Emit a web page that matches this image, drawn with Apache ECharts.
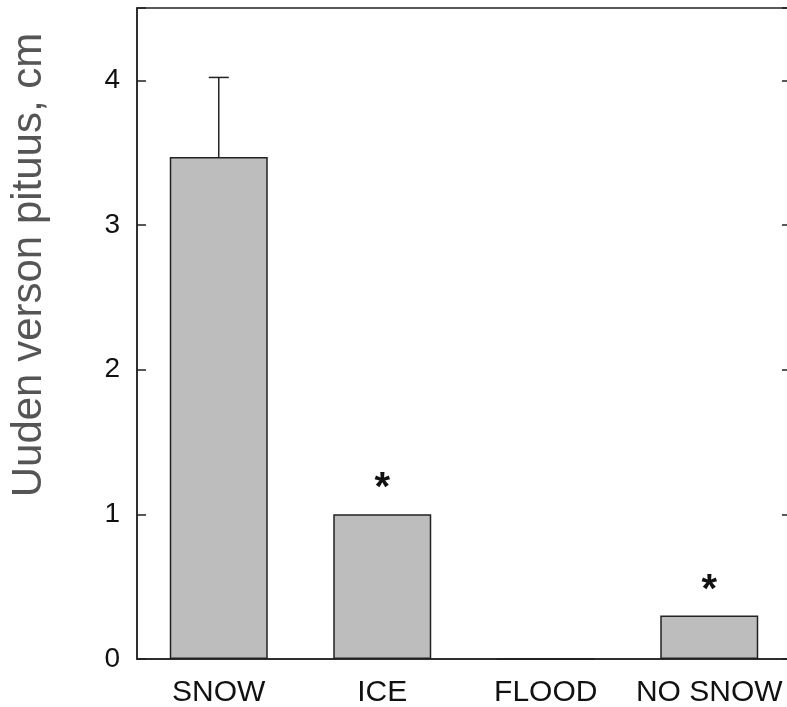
<!DOCTYPE html>
<html><head><meta charset="utf-8">
<script src="https://cdn.jsdelivr.net/npm/echarts@6/dist/echarts.min.js"></script>
<style>html,body{margin:0;padding:0;background:#fff}#c{width:787px;height:707px}</style>
</head><body><div id="c"></div>
<script>
const categories = ['SNOW', 'ICE', 'FLOOD', 'NO SNOW'];
const values = [3.47, 1.0, 0, 0.30];
const errorsUp = [0.55, 0, 0, 0];
const marks = ['', '*', '', '*'];
const yTicks = [0, 1, 2, 3, 4];
const yTitle = 'Uuden verson pituus, cm';

const FONT = 'Liberation Sans, Arial, sans-serif';
const chart = echarts.init(document.getElementById('c'));
const errData = categories.map((c, i) => [i, values[i], values[i] + errorsUp[i]]).filter(d => d[2] > d[1]);
chart.setOption({
  animation: false,
  graphic: [{
    type: 'text', x: 29, y: 265, rotation: Math.PI / 2,
    style: { text: yTitle, fill: '#555', fontSize: 42, fontFamily: FONT, align: 'center', verticalAlign: 'middle' }
  }],
  grid: { left: 137, top: 8, width: 654, bottom: 48, outerBoundsMode: 'none', containLabel: false,
    show: true, borderColor: '#222', borderWidth: 1.5, backgroundColor: 'transparent' },
  xAxis: {
    type: 'category', data: categories,
    axisLine: { lineStyle: { color: '#222', width: 1.5 } },
    axisTick: { show: false },
    axisLabel: { interval: 0, hideOverlap: false, color: '#111', fontSize: 30, fontFamily: FONT, margin: 19 }
  },
  yAxis: [{
    type: 'value', min: 0, max: 4.5, interval: 1,
    axisLine: { show: true, lineStyle: { color: '#222', width: 1.5 } },
    axisTick: { show: true, inside: true, length: 9, lineStyle: { color: '#222', width: 1.5 } },
    axisLabel: { color: '#111', fontSize: 28, fontFamily: FONT, margin: 17,
      formatter: v => yTicks.includes(v) ? String(v) : '' },
    splitLine: { show: false }
  }, {
    type: 'value', min: 0, max: 4.5, interval: 1, position: 'right',
    axisLine: { show: true, lineStyle: { color: '#222', width: 1.5 } },
    axisTick: { show: true, inside: true, length: 9, lineStyle: { color: '#222', width: 1.5 } },
    axisLabel: { show: false }, splitLine: { show: false }
  }],
  series: [{
    type: 'bar', data: values.map((v, i) => ({ value: v, label: { show: marks[i] !== '', formatter: marks[i] } })),
    barWidth: 98,
    itemStyle: { color: '#bdbdbd', borderColor: '#222', borderWidth: 1.5 },
    label: { position: 'top', distance: 5, color: '#111', fontSize: 40, fontWeight: 'bold', fontFamily: FONT }
  }, {
    type: 'custom', data: errData, z: 5,
    renderItem: function (params, api) {
      const x = api.value(0);
      const lo = api.coord([x, api.value(1)]);
      const hi = api.coord([x, api.value(2)]);
      const hw = 10;
      return { type: 'group', children: [
        { type: 'line', shape: { x1: lo[0], y1: lo[1], x2: hi[0], y2: hi[1] }, style: { stroke: '#222', lineWidth: 1.5 } },
        { type: 'line', shape: { x1: hi[0] - hw, y1: hi[1], x2: hi[0] + hw, y2: hi[1] }, style: { stroke: '#222', lineWidth: 1.5 } }
      ]};
    }
  }]
});
</script></body></html>
